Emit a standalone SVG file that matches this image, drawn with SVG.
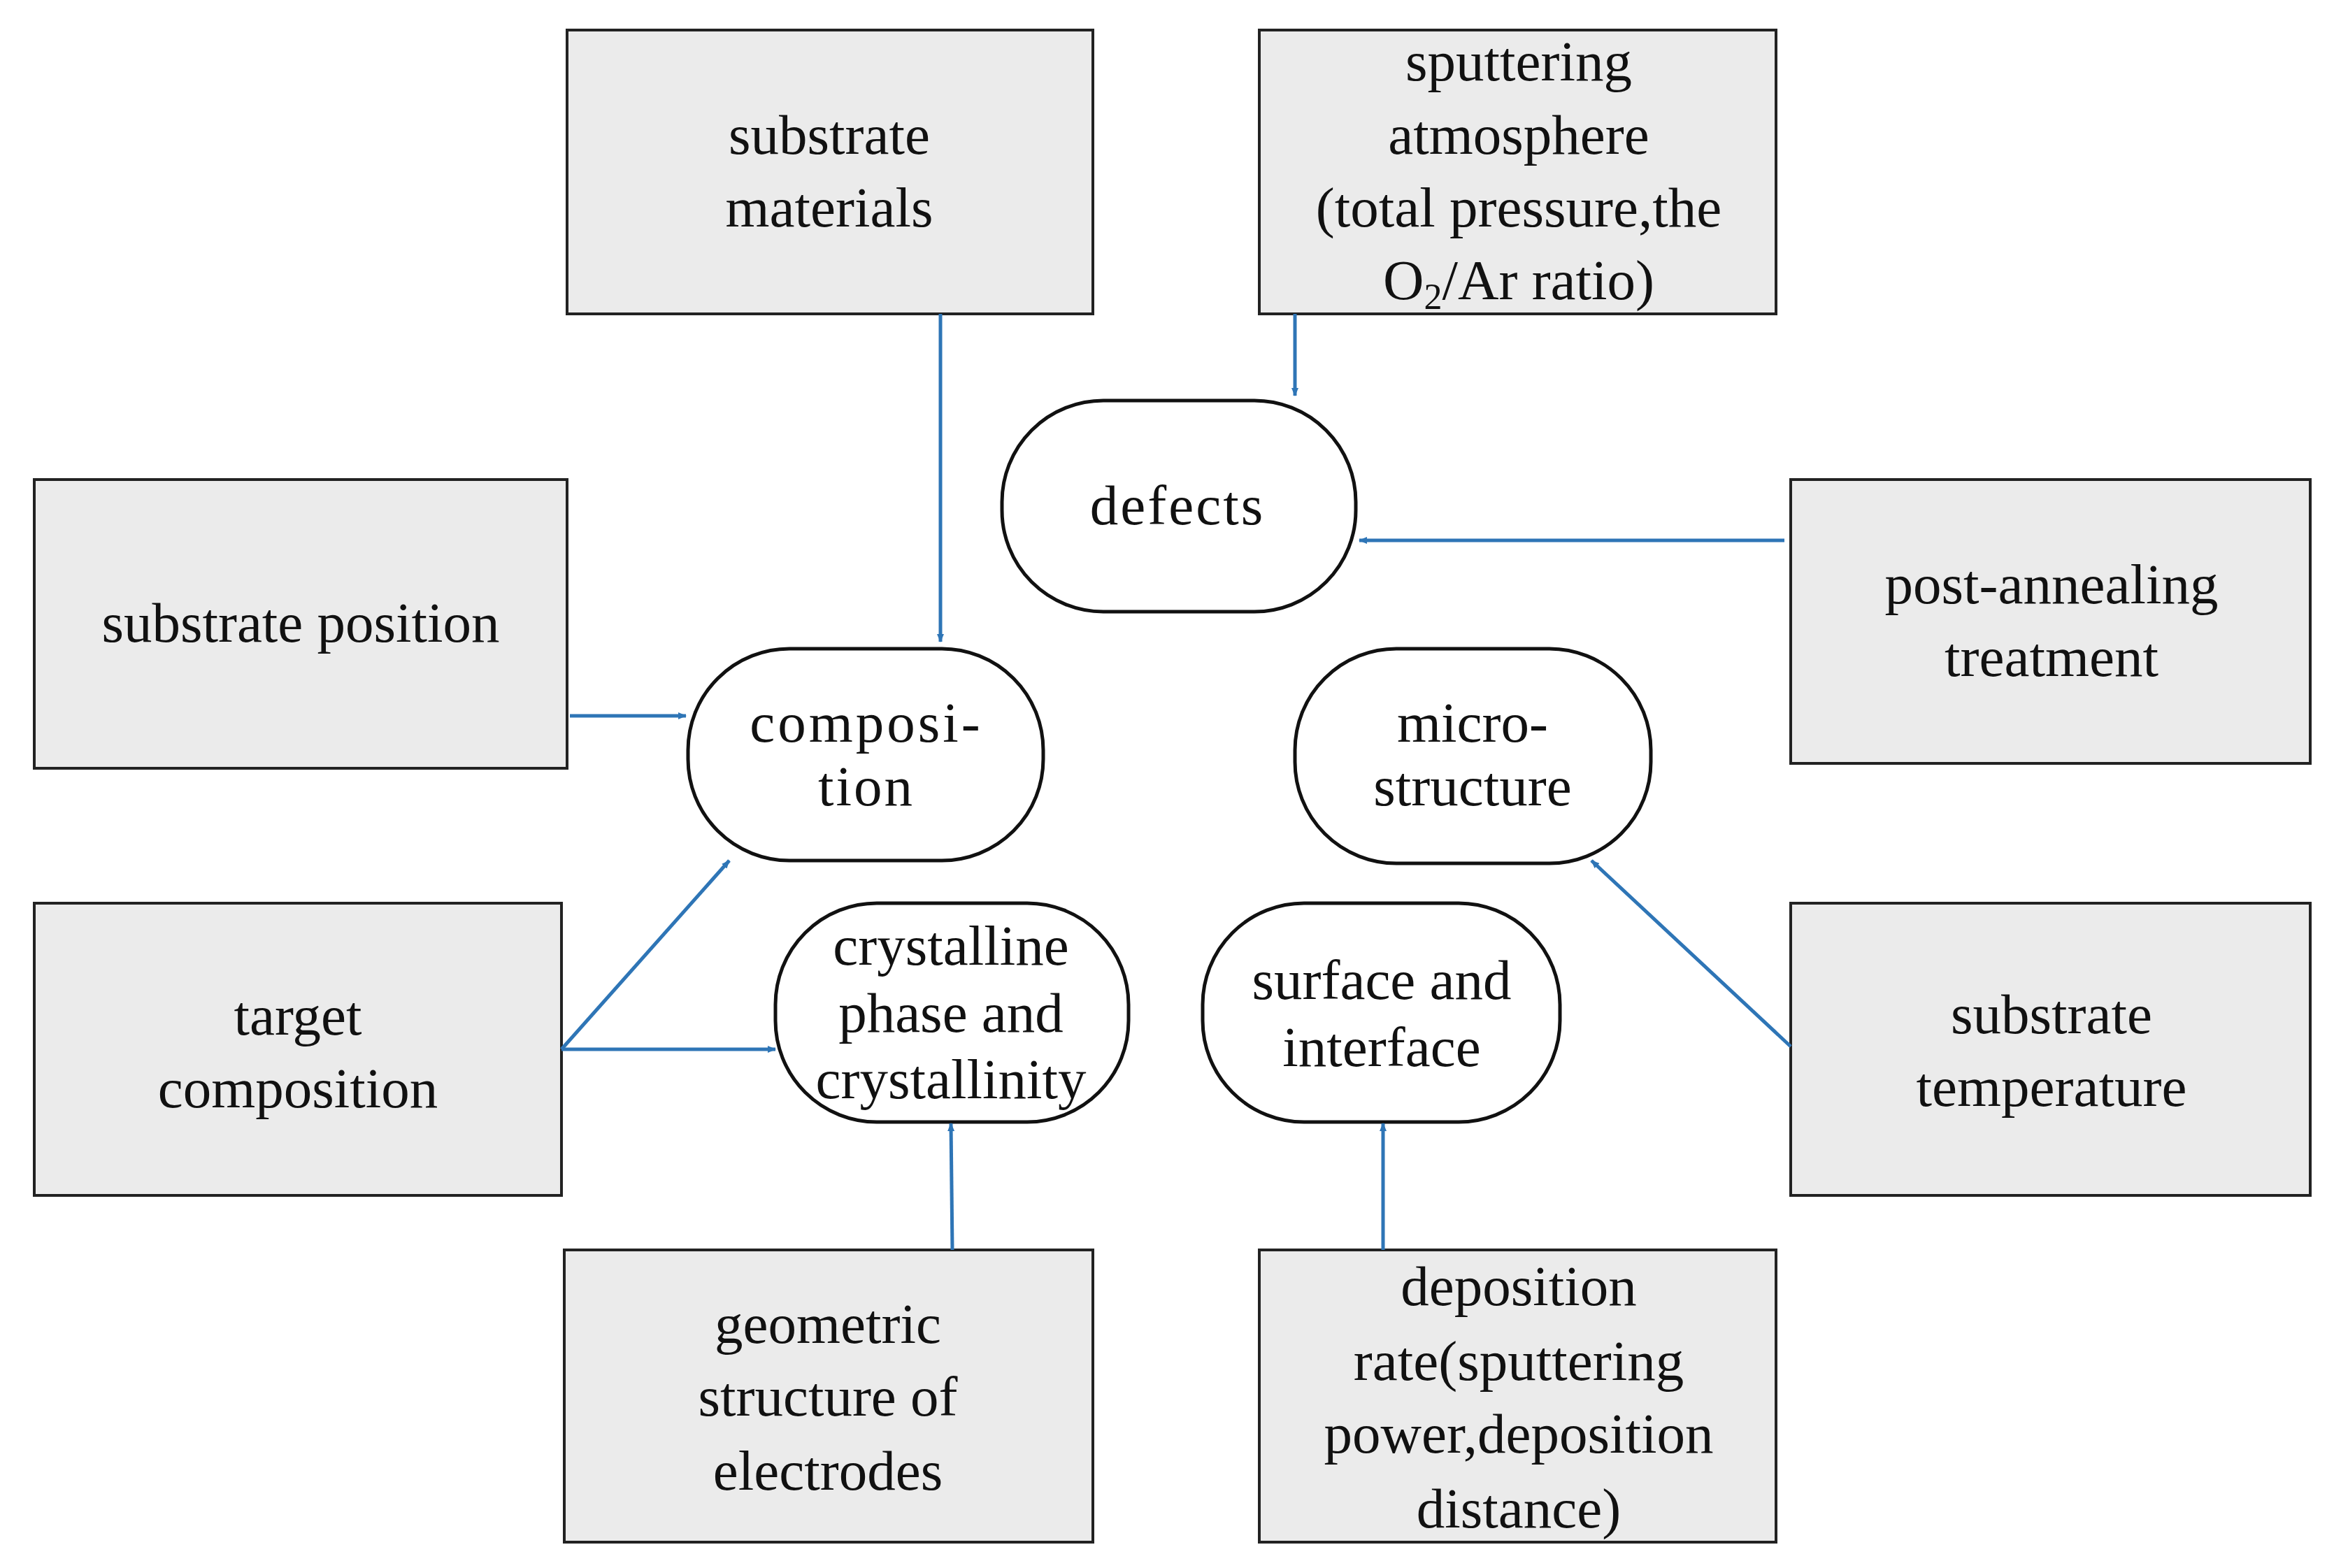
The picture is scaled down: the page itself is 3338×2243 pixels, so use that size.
<svg xmlns="http://www.w3.org/2000/svg" width="3338" height="2243" viewBox="0 0 3338 2243">
<style>
.b{fill:#ebebeb;stroke:#222;stroke-width:4}
.r{fill:#fff;stroke:#111;stroke-width:5}
text{font-family:"Liberation Serif","Times New Roman",serif;font-size:81px;text-anchor:middle;fill:#111}
.c line{stroke:#2e75b6;stroke-width:5;marker-end:url(#a)}
</style>
<defs><marker id="a" markerWidth="12" markerHeight="10" refX="11" refY="5" orient="auto" markerUnits="userSpaceOnUse" viewBox="0 0 12 10"><path d="M0,0 L12,5 L0,10 Z" fill="#2e75b6"/></marker>
<marker id="a2" markerWidth="30" markerHeight="24" refX="28" refY="12" orient="auto" markerUnits="userSpaceOnUse"><path d="M0,0 L28,12 L0,24 L8,12 Z" fill="#2e75b6"/></marker></defs>
<rect width="3338" height="2243" fill="#fff"/>
<g id="n1"><rect class="b" x="811" y="43" width="752" height="406"/><text x="1186" y="220">substrate</text><text x="1186" y="324">materials</text></g>
<g id="n2"><rect class="b" x="1801" y="43" width="739" height="406"/><text x="2172" y="115">sputtering</text><text x="2172" y="220">atmosphere</text><text x="2172" y="324">(total pressure,the</text><text x="2172" y="428">O<tspan font-size="52" dy="14">2</tspan><tspan dy="-14">/Ar ratio)</tspan></text></g>
<g id="n3"><rect class="b" x="49" y="686" width="762" height="413"/><text x="430" y="918">substrate position</text></g>
<g id="n4"><rect class="b" x="49" y="1292" width="754" height="418"/><text x="426" y="1480">target</text><text x="426" y="1584">composition</text></g>
<g id="n5"><rect class="b" x="807" y="1788" width="756" height="418"/><text x="1184" y="1921">geometric</text><text x="1184" y="2025">structure of</text><text x="1184" y="2131">electrodes</text></g>
<g id="n6"><rect class="b" x="1801" y="1788" width="739" height="418"/><text x="2172" y="1867">deposition</text><text x="2172" y="1974">rate(sputtering</text><text x="2172" y="2078">power,deposition</text><text x="2172" y="2185">distance)</text></g>
<g id="n7"><rect class="b" x="2561" y="686" width="743" height="406"/><text x="2934" y="863">post-annealing</text><text x="2934" y="967">treatment</text></g>
<g id="n8"><rect class="b" x="2561" y="1292" width="743" height="418"/><text x="2934" y="1478">substrate</text><text x="2934" y="1582">temperature</text></g>
<g id="n9"><rect class="r" x="1433" y="573" width="506" height="302" rx="145"/><text x="1684" y="750" letter-spacing="3">defects</text></g>
<g id="n10"><rect class="r" x="984" y="928" width="508" height="303" rx="145"/><text x="1239" y="1061" letter-spacing="4">composi-</text><text x="1239" y="1152" letter-spacing="3">tion</text></g>
<g id="n11"><rect class="r" x="1852" y="928" width="509" height="307" rx="145"/><text x="2106" y="1061">micro-</text><text x="2106" y="1152">structure</text></g>
<g id="n12"><rect class="r" x="1109" y="1292" width="505" height="313" rx="145"/><text x="1360" y="1380">crystalline</text><text x="1360" y="1476">phase and</text><text x="1360" y="1571">crystallinity</text></g>
<g id="n13"><rect class="r" x="1720" y="1292" width="511" height="313" rx="145"/><text x="1976" y="1429">surface and</text><text x="1976" y="1525">interface</text></g>
<g id="connectors" class="c">
<line x1="1345" y1="449" x2="1345" y2="918" marker-end="url(#a2)"/>
<line x1="1852" y1="449" x2="1852" y2="566" marker-end="url(#a2)"/>
<line x1="2552" y1="773" x2="1944" y2="773" marker-end="url(#a2)"/>
<line x1="815" y1="1024" x2="981" y2="1024" marker-end="url(#a2)"/>
<line x1="803" y1="1501" x2="1043" y2="1231" marker-end="url(#a2)"/>
<line x1="803" y1="1501" x2="1109" y2="1501" marker-end="url(#a2)"/>
<line x1="1362" y1="1788" x2="1360" y2="1607" marker-end="url(#a2)"/>
<line x1="1978" y1="1788" x2="1978" y2="1607" marker-end="url(#a2)"/>
<line x1="2561" y1="1497" x2="2276" y2="1231" marker-end="url(#a2)"/>
</g>
</svg>
